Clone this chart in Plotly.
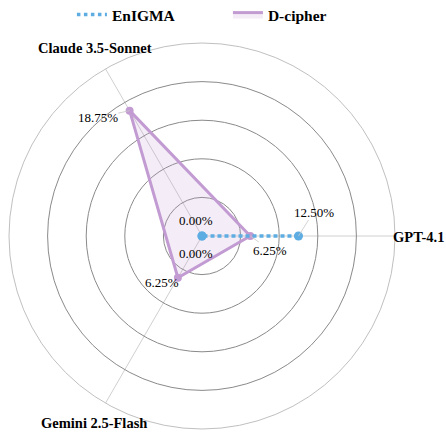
import math
import plotly.graph_objects as go

models = ["GPT-4.1", "Claude 3.5-Sonnet", "Gemini 2.5-Flash"]
enigma = [12.50, 0.00, 0.00]
dcipher = [6.25, 18.75, 6.25]

R_MAX = 25

# label offsets in px (text centre relative to the point), and leader on/off
enigma_off = [(15, -24, True), (-6, -16, False), (-6, 17, False)]
dcipher_off = [(20, 14, True), (-32, 7, True), (-16, 5, False)]

serif = "Liberation Serif, Times New Roman, serif"
blue = "#5DADE2"
purple = "#C39BD3"

fig = go.Figure()

fig.add_trace(
    go.Scatterpolar(
        r=dcipher + [dcipher[0]],
        theta=models + [models[0]],
        name="D-cipher",
        mode="lines",
        fill="toself",
        fillcolor="rgba(195,155,211,0.18)",
        line=dict(color=purple, width=3),
        legendrank=2,
    )
)
fig.add_trace(
    go.Scatterpolar(
        r=dcipher,
        theta=models,
        mode="markers",
        marker=dict(size=8, color=purple),
        showlegend=False,
        hoverinfo="skip",
    )
)
fig.add_trace(
    go.Scatterpolar(
        r=enigma + [enigma[0]],
        theta=models + [models[0]],
        name="EnIGMA",
        mode="lines",
        line=dict(color=blue, width=3.5, dash="3.5px,3.5px"),
        legendrank=1,
    )
)
fig.add_trace(
    go.Scatterpolar(
        r=enigma,
        theta=models,
        mode="markers",
        marker=dict(size=9, color=blue),
        showlegend=False,
        hoverinfo="skip",
    )
)

# hidden cartesian frame laid over the polar area, used to anchor the value labels
fig.add_trace(go.Scatter(x=[None], y=[None], showlegend=False, hoverinfo="skip"))


def add_labels(values, offsets):
    n = len(models)
    for i, (v, (dx, dy, leader)) in enumerate(zip(values, offsets)):
        ang = math.radians(360 * i / n)
        fig.add_annotation(
            x=v * math.cos(ang),
            y=v * math.sin(ang),
            xref="x",
            yref="y",
            text=f"{v:.2f}%",
            font=dict(family=serif, size=13, color="black"),
            showarrow=True,
            arrowhead=0,
            arrowwidth=0.8,
            arrowcolor="#c8c8c8" if leader else "rgba(0,0,0,0)",
            ax=dx,
            ay=dy,
            standoff=0,
            borderpad=0,
        )


add_labels(enigma, enigma_off)
add_labels(dcipher, dcipher_off)

# category labels
axis_labels = [
    dict(text=models[0], x=0.9922, y=0.497, xanchor="left"),
    dict(text=models[1], x=0.223, y=0.987, xanchor="center"),
    dict(text=models[2], x=0.2215, y=0.0155, xanchor="center"),
]
for a in axis_labels:
    fig.add_annotation(
        xref="paper",
        yref="paper",
        yanchor="middle",
        showarrow=False,
        borderpad=0,
        font=dict(family=serif, size=14.5, color="black", weight="bold"),
        **a,
    )

fig.update_layout(
    width=446,
    height=436,
    paper_bgcolor="white",
    plot_bgcolor="rgba(0,0,0,0)",
    font=dict(family=serif, color="black"),
    margin=dict(l=9, r=51, t=43, b=7, autoexpand=False),
    xaxis=dict(range=[-R_MAX, R_MAX], domain=[0, 1], visible=False, fixedrange=True),
    yaxis=dict(range=[-R_MAX, R_MAX], domain=[0, 1], visible=False, fixedrange=True),
    legend=dict(
        orientation="h",
        x=0.163,
        xanchor="left",
        y=1.0725,
        yanchor="middle",
        font=dict(family=serif, size=15.5, weight="bold"),
        itemwidth=30,
        entrywidthmode="pixels",
        entrywidth=111,
        traceorder="normal",
    ),
    polar=dict(
        bgcolor="white",
        domain=dict(x=[0, 1], y=[0, 1]),
        radialaxis=dict(
            range=[0, R_MAX],
            dtick=5,
            showticklabels=False,
            ticks="",
            showline=False,
            gridcolor="#8a8a8a",
            gridwidth=1,
        ),
        angularaxis=dict(
            direction="counterclockwise",
            rotation=0,
            showticklabels=False,
            gridcolor="#d0d0d0",
            linecolor="#c0c0c0",
            linewidth=1,
            ticks="",
        ),
    ),
)

fig.write_html(
    "out.html",
    config={"displayModeBar": False},
    post_script="document.body.style.margin='0px';",
)
